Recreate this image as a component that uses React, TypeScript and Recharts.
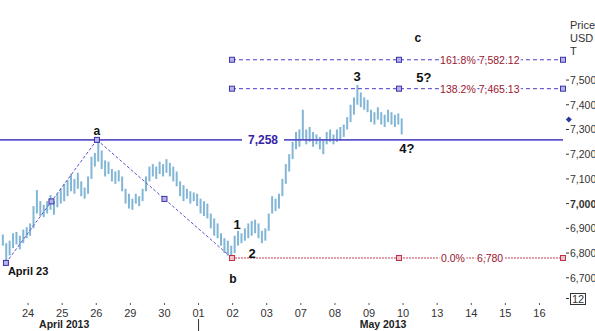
import React from 'react'
import {
  ComposedChart,
  Bar,
  XAxis,
  YAxis,
  ReferenceLine,
  ReferenceDot,
} from 'recharts'

// trading days shown on the axis (23 Apr .. 16 May 2013)
const dayLabels = ['23', '24', '25', '26', '29', '30', '01', '02', '03', '07', '08', '09', '10', '13', '14', '15', '16']
const barsPerDay = 10
const firstSlot = 2 // first visible bar slot on 23 April

const highs = [
  6875, 6840, 6850, 6880, 6885, 6870, 6895, 6905,
  6920, 6990, 7055, 7010, 6995, 7010, 7035, 7010, 7040, 7060,
  7080, 7095, 7120, 7100, 7125, 7090, 7065, 7110, 7190, 7205,
  7258, 7215, 7175, 7170, 7140, 7130, 7135, 7110, 7060, 7040,
  7020, 7040, 7030, 7060, 7110, 7150, 7160, 7150, 7170, 7160,
  7180, 7165, 7150, 7130, 7090, 7075, 7060, 7050, 7045, 7040,
  7020, 7010, 7000, 6960, 6940, 6920, 6880, 6860, 6850, 6830,
  6870, 6890, 6880, 6900, 6920, 6930, 6935, 6920, 6890, 6900,
  6960, 7030, 7020, 7040, 7100, 7160, 7200, 7250, 7290, 7300,
  7380, 7300, 7310, 7290, 7280, 7270, 7260, 7290, 7300, 7280,
  7300, 7310, 7320, 7350, 7400, 7430, 7480, 7450, 7430, 7420,
  7380, 7370, 7390, 7370, 7360, 7380, 7370, 7360, 7365, 7345,
]
const lows = [
  6830, 6765, 6790, 6820, 6835, 6815, 6840, 6860,
  6870, 6900, 6960, 6950, 6945, 6960, 6975, 6955, 6985, 7000,
  7010, 7030, 7050, 7040, 7060, 7030, 7020, 7040, 7100, 7150,
  7170, 7140, 7110, 7120, 7090, 7080, 7090, 7050, 7000, 6980,
  6975, 7000, 6990, 7010, 7050, 7090, 7110, 7100, 7120, 7110,
  7125, 7110, 7090, 7070, 7030, 7010, 7020, 7000, 7010, 6990,
  6960, 6950, 6940, 6900, 6870, 6860, 6830, 6800, 6790, 6780,
  6800, 6830, 6840, 6850, 6860, 6870, 6880, 6860, 6840, 6850,
  6890, 6960, 6970, 6980, 7030, 7080, 7130, 7180, 7220, 7230,
  7260, 7240, 7250, 7230, 7240, 7220, 7200, 7240, 7250, 7240,
  7250, 7255, 7270, 7300, 7330, 7360, 7400, 7390, 7380, 7370,
  7330, 7320, 7340, 7320, 7310, 7330, 7320, 7310, 7320, 7280,
]

const priceTicks = [6700, 6800, 6900, 7000, 7100, 7200, 7300, 7400, 7500]
const lastPrice = 7340

const keyLevel = 7258
const fibLevels = [
  { label: '161.8% 7,582.12', value: 7582.12 },
  { label: '138.2% 7,465.13', value: 7465.13 },
]
const baseLevel = 6780
const baseLabels = ['0.0%', '6,780']

// abc swing: April 23 low -> a -> b (x in trading-day units)
const swingX = [0.35, 3.02, 6.98]
const swingY = [6760, 7258, 6780]
const fibX = [6.98, 11.88, 16.69]

const waveLabels = [
  { text: 'a', x: 3.02, y: 7294, size: 12 },
  { text: 'b', x: 7.01, y: 6695, size: 12 },
  { text: '1', x: 7.13, y: 6914, size: 13 },
  { text: '2', x: 7.57, y: 6800, size: 13 },
  { text: '3', x: 10.65, y: 7513, size: 13 },
  { text: '4?', x: 12.11, y: 7225, size: 13 },
  { text: 'c', x: 12.43, y: 7671, size: 12 },
  { text: '5?', x: 12.61, y: 7509, size: 13 },
  { text: 'April 23', x: 1.0, y: 6727, size: 11 },
]

const data = highs.map((h, i) => {
  const slot = i + firstSlot
  return {
    x: Math.floor(slot / barsPerDay) + ((slot % barsPerDay) + 0.5) / barsPerDay,
    range: [lows[i], h],
  }
})

const font = '"Liberation Sans", Arial, sans-serif'

const Marker = (color: string, fill: string) => (p: any) => (
  <rect x={p.cx - 2.5} y={p.cy - 2.5} width={5} height={5} fill={fill} stroke={color} strokeWidth={1} />
)
const blueMarker = Marker('#3b34a8', '#b8b2ec')
const redMarker = Marker('#c03048', '#f2c4c8')

const haloText = (text: string, color: string) => (p: any) => (
  <text
    x={p.cx}
    y={p.cy}
    textAnchor="middle"
    dominantBaseline="central"
    fontSize={10.5}
    fontFamily={font}
    fill={color}
    stroke="#fff"
    strokeWidth={4}
    paintOrder="stroke"
  >
    {text}
  </text>
)

const DayTick = (props: any) => {
  const { x, y, payload } = props
  const v = payload.value
  return (
    <g>
      <line x1={x} x2={x} y1={y - 3} y2={y - 1} stroke="#555" />
      <text x={x} y={y + 11} textAnchor="middle" fontSize={11} fontFamily={font} fill="#333">
        {dayLabels[v]}
      </text>
      {v === 2 && (
        <text x={x + 2} y={y + 22} textAnchor="middle" fontSize={10.5} fontWeight="bold" fontFamily={font} fill="#222">
          April 2013
        </text>
      )}
      {v === 11 && (
        <text x={x + 14} y={y + 22} textAnchor="middle" fontSize={10.5} fontWeight="bold" fontFamily={font} fill="#222">
          May 2013
        </text>
      )}
      {v === 6 && <line x1={x} x2={x} y1={y + 13} y2={y + 25} stroke="#333" />}
    </g>
  )
}

const PriceTick = (props: any) => {
  const { x, y, payload } = props
  const v = payload.value
  return (
    <g>
      <line x1={x + 3} x2={x + 6} y1={y} y2={y} stroke="#333" />
      <text
        x={x + 7}
        y={y}
        dominantBaseline="central"
        fontSize={10.5}
        fontWeight={v === 7000 ? 'bold' : 'normal'}
        fontFamily={font}
        fill="#333"
      >
        {v.toLocaleString('en-US')}
      </text>
    </g>
  )
}

export default function App() {
  return (
    <div style={{ position: 'absolute', left: 0, top: 0, width: 595, height: 331, background: '#fff', fontFamily: font }}>
      <ComposedChart width={595} height={331} data={data} margin={{ top: 0, right: 0, bottom: 0, left: 0 }}>
        <XAxis
          type="number"
          dataKey="x"
          domain={[0.176, 16.69]}
          allowDataOverflow
          ticks={[1, 2, 3, 4, 5, 6, 7, 8, 9, 10, 11, 12, 13, 14, 15, 16]}
          height={31}
          axisLine={false}
          tickLine={false}
          tickSize={4}
          tickMargin={2}
          tick={<DayTick />}
        />
        <YAxis
          orientation="right"
          width={32}
          domain={[6610, 7824]}
          allowDataOverflow
          ticks={priceTicks}
          axisLine={false}
          tickLine={false}
          tickSize={0}
          tickMargin={0}
          tick={<PriceTick />}
        />

        <ReferenceLine y={keyLevel} stroke="#5c52c8" strokeWidth={1.6} />

        {/* abc swing lines */}
        <ReferenceLine
          segment={[{ x: swingX[0], y: swingY[0] }, { x: swingX[1], y: swingY[1] }]}
          stroke="#5a52c8"
          strokeDasharray="3 2"
        />
        <ReferenceLine
          segment={[{ x: swingX[1], y: swingY[1] }, { x: swingX[2], y: swingY[2] }]}
          stroke="#5a52c8"
          strokeDasharray="3 2"
        />

        {/* fibonacci extension levels */}
        {fibLevels.map((f) => (
          <ReferenceLine
            key={f.label}
            segment={[{ x: fibX[0], y: f.value }, { x: fibX[2], y: f.value }]}
            stroke="#4a3cc8"
            strokeDasharray="4 3"
          />
        ))}
        <ReferenceLine
          segment={[{ x: fibX[0], y: baseLevel }, { x: fibX[2], y: baseLevel }]}
          stroke="#c43c50"
          strokeDasharray="2 1"
        />

        <Bar dataKey="range" barSize={2} fill="#82b6d6" isAnimationActive={false} />

        {fibLevels.map((f) => (
          <ReferenceDot key={'t' + f.label} x={14.25} y={f.value} r={0} shape={haloText(f.label, '#9a1530')} />
        ))}
        <ReferenceDot x={13.46} y={baseLevel} r={0} shape={haloText(baseLabels[0], '#9a1530')} />
        <ReferenceDot x={14.55} y={baseLevel} r={0} shape={haloText(baseLabels[1], '#9a1530')} />

        <ReferenceDot
          x={7.89}
          y={keyLevel}
          r={0}
          shape={(p: any) => (
            <g>
              <rect x={p.cx - 21} y={p.cy - 6} width={42} height={12} fill="#fff" />
              <text
                x={p.cx}
                y={p.cy}
                textAnchor="middle"
                dominantBaseline="central"
                fontSize={12}
                fontWeight="bold"
                fontFamily={font}
                fill="#3424a8"
              >
                7,258
              </text>
            </g>
          )}
        />

        {/* markers */}
        {swingX.map((x, i) => (
          <ReferenceDot key={'s' + i} x={x} y={swingY[i]} r={0} shape={i === 2 ? redMarker : blueMarker} />
        ))}
        <ReferenceDot x={(swingX[0] + swingX[1]) / 2} y={(swingY[0] + swingY[1]) / 2} r={0} shape={blueMarker} />
        <ReferenceDot x={(swingX[1] + swingX[2]) / 2} y={(swingY[1] + swingY[2]) / 2} r={0} shape={blueMarker} />
        {fibLevels.map((f) =>
          fibX.map((x, i) => (
            <ReferenceDot key={f.label + i} x={x} y={f.value} r={0} ifOverflow="visible" shape={blueMarker} />
          ))
        )}
        {fibX.slice(1).map((x, i) => (
          <ReferenceDot key={'b' + i} x={x} y={baseLevel} r={0} ifOverflow="visible" shape={redMarker} />
        ))}

        {waveLabels.map((w) => (
          <ReferenceDot
            key={w.text}
            x={w.x}
            y={w.y}
            r={0}
            shape={(p: any) => (
              <text
                x={p.cx}
                y={p.cy}
                textAnchor="middle"
                dominantBaseline="central"
                fontSize={w.size}
                fontWeight="bold"
                fontFamily={font}
                fill="#111"
              >
                {w.text}
              </text>
            )}
          />
        ))}

        <ReferenceDot
          x={16.86}
          y={lastPrice}
          r={0}
          ifOverflow="visible"
          shape={(p: any) => (
            <path d={`M${p.cx} ${p.cy - 3}L${p.cx + 3} ${p.cy}L${p.cx} ${p.cy + 3}L${p.cx - 3} ${p.cy}Z`} fill="#2a3a9a" />
          )}
        />
      </ComposedChart>

      <div style={{ position: 'absolute', left: 570, top: 19, fontSize: 11, lineHeight: '13px', color: '#333' }}>
        Price
        <br />
        USD
        <br />
        T
      </div>
      <div style={{ position: 'absolute', left: 566, top: 298, width: 3, height: 1, background: '#333' }} />
      <div
        style={{
          position: 'absolute',
          left: 570,
          top: 293,
          width: 14,
          height: 10,
          border: '1px solid #333',
          fontSize: 11,
          lineHeight: '10px',
          textAlign: 'center',
          color: '#333',
        }}
      >
        12
      </div>
    </div>
  )
}
